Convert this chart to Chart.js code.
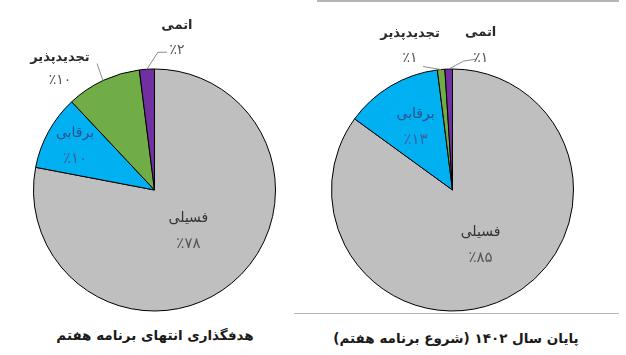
<!DOCTYPE html>
<html><head><meta charset="utf-8">
<script src="https://cdn.jsdelivr.net/npm/chart.js@4"></script>
<style>
body{margin:0;background:#fff;width:626px;height:355px;overflow:hidden;position:relative;font-family:"DejaVu Sans",sans-serif}
canvas{position:absolute;top:0}
.line{position:absolute;background:#b5b5b5;height:1px}
.title{position:absolute;top:327px;font-weight:bold;font-size:13.5px;color:#1a1a1a;direction:rtl;text-align:center;white-space:nowrap;width:300px}
</style></head><body>
<canvas id="left" width="313" height="313" style="left:0"></canvas>
<canvas id="right" width="313" height="313" style="left:313px"></canvas>
<div class="line" style="left:317px;top:0;width:302px;height:2px"></div>
<div class="line" style="left:294px;top:313px;width:325px"></div>
<div class="title" id="tLeft" style="left:5px"></div>
<div class="title" id="tRight" style="left:306px;top:330px"></div>
<script>
const categories = ['فسیلی', 'برقابی', 'تجدیدپذیر', 'اتمی'];
const targetValues = [78, 10, 10, 2];
const currentValues = [85, 13, 1, 1];
const titleLeft = 'هدفگذاری انتهای برنامه هفتم';
const titleRight = 'پایان سال ۱۴۰۲ (شروع برنامه هفتم)';
const sliceColors = ['#bfbfbf', '#00b0f0', '#70ad47', '#7030a0'];

document.getElementById('tLeft').textContent = titleLeft;
document.getElementById('tRight').textContent = titleRight;

const fa = n => String(n).replace(/\d/g, d => '۰۱۲۳۴۵۶۷۸۹'[d]);

const labelPlugin = {
  id: 'sliceLabels',
  afterDatasetsDraw(chart, args, opts) {
    const ctx = chart.ctx;
    const meta = chart.getDatasetMeta(0);
    const vals = chart.data.datasets[0].data;
    ctx.save();
    ctx.textAlign = 'center';
    ctx.textBaseline = 'middle';
    meta.data.forEach((el, i) => {
      const p = el.getProps(['x', 'y', 'startAngle', 'endAngle', 'outerRadius'], true);
      const mid = (p.startAngle + p.endAngle) / 2;
      const lay = opts.layout[i];
      const name = chart.data.labels[i];
      const pct = '٪' + fa(vals[i]);
      if (lay.inside) {
        const cx = p.x + Math.cos(mid) * p.outerRadius * lay.inside;
        const cy = p.y + Math.sin(mid) * p.outerRadius * lay.inside;
        ctx.fillStyle = lay.color;
        ctx.font = '14px "DejaVu Sans"';
        ctx.fillText(name, cx, cy - 13);
        ctx.font = '15px "DejaVu Sans"';
        ctx.fillStyle = lay.pctColor;
        ctx.fillText(pct, cx, cy + 13);
      } else {
        const px = p.x + Math.cos(mid) * p.outerRadius;
        const py = p.y + Math.sin(mid) * p.outerRadius;
        ctx.strokeStyle = '#8c8c8c';
        ctx.lineWidth = 1;
        ctx.beginPath();
        ctx.moveTo(px, py);
        lay.leader.forEach(pt => ctx.lineTo(px + pt[0], py + pt[1]));
        ctx.stroke();
        ctx.fillStyle = '#2a2a2a';
        ctx.font = 'bold 13px "DejaVu Sans"';
        ctx.fillText(name, px + lay.text[0], py + lay.text[1]);
        ctx.font = '14px "DejaVu Sans"';
        ctx.fillStyle = '#555';
        ctx.fillText(pct, px + lay.text[0], py + lay.text[2]);
      }
    });
    ctx.restore();
  }
};

function makePie(id, values, padding, layout) {
  new Chart(document.getElementById(id), {
    type: 'pie',
    data: {
      labels: categories,
      datasets: [{
        data: values,
        backgroundColor: sliceColors,
        borderColor: '#000',
        borderWidth: 1
      }]
    },
    options: {
      responsive: false,
      animation: false,
      layout: { padding },
      plugins: {
        legend: { display: false },
        tooltip: { enabled: false },
        sliceLabels: { layout }
      }
    },
    plugins: [labelPlugin]
  });
}

makePie('left', targetValues, { left: 33, right: 37, top: 68, bottom: 1 }, [
  { inside: 0.44, color: '#333', pctColor: '#555' },
  { inside: 0.75, color: '#2f4f8f', pctColor: '#3f5f9f' },
  { leader: [[-6, -17]], text: [-43, -23, 0] },
  { leader: [[11, -17], [20, -17]], text: [30, -44, -19] }
]);

makePie('right', currentValues, { left: 18, right: 52, top: 68, bottom: 1 }, [
  { inside: 0.51, color: '#333', pctColor: '#555' },
  { inside: 0.6, color: '#2f4f8f', pctColor: '#3f5f9f' },
  { leader: [[-18, -3]], text: [-31, -36, -11] },
  { leader: [[15, -8], [28, -10]], text: [32, -36, -11] }
]);
</script>
</body></html>
